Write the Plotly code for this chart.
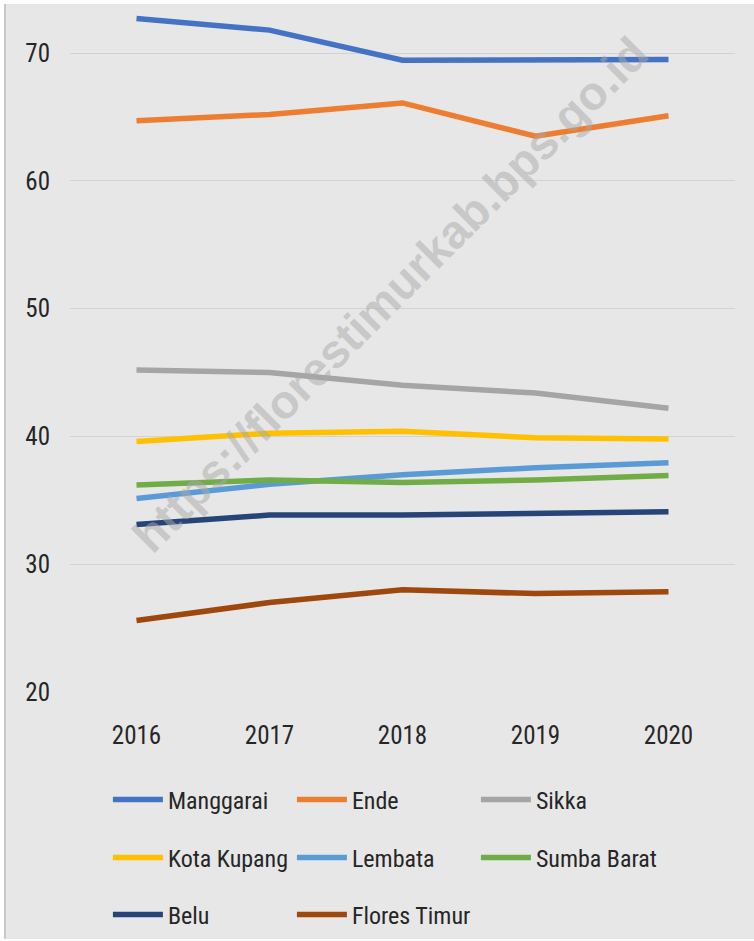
import plotly.graph_objects as go

years = ["2016", "2017", "2018", "2019", "2020"]
manggarai = [72.7, 71.8, 69.45, 69.45, 69.5]
ende = [64.7, 65.2, 66.1, 63.5, 65.1]
sikka = [45.2, 45.0, 44.0, 43.4, 42.2]
kota_kupang = [39.6, 40.25, 40.4, 39.9, 39.8]
lembata = [35.15, 36.25, 37.0, 37.55, 37.95]
sumba_barat = [36.2, 36.6, 36.4, 36.6, 36.95]
belu = [33.1, 33.85, 33.85, 34.0, 34.1]
flores_timur = [25.6, 27.0, 28.0, 27.7, 27.85]
y_ticks = [20, 30, 40, 50, 60, 70]

series = [
    ("Manggarai", manggarai, "#4472C4", "legend"),
    ("Ende", ende, "#ED7D31", "legend"),
    ("Sikka", sikka, "#A5A5A5", "legend"),
    ("Kota Kupang", kota_kupang, "#FFC000", "legend2"),
    ("Lembata", lembata, "#5B9BD5", "legend2"),
    ("Sumba Barat", sumba_barat, "#70AD47", "legend2"),
    ("Belu", belu, "#264478", "legend3"),
    ("Flores Timur", flores_timur, "#9E480E", "legend3"),
]

FONT = "Liberation Sans Narrow, Arial Narrow, Roboto Condensed, sans-serif"
BG = "#E7E7E7"

fig = go.Figure()
for name, vals, color, lg in series:
    fig.add_trace(go.Scatter(
        x=years, y=vals, name=name, mode="lines",
        line=dict(color=color, width=5.5),
        legend=lg,
    ))

legend_common = dict(
    orientation="h", xanchor="left", yanchor="middle",
    x=0.057, entrywidth=119, entrywidthmode="pixels",
    font=dict(family=FONT, size=24, color="#262626"),
    bgcolor="rgba(0,0,0,0)", itemwidth=50,
    traceorder="normal",
)

fig.update_layout(
    width=754, height=941,
    margin=dict(l=70, r=19, t=2, b=249),
    paper_bgcolor=BG, plot_bgcolor=BG,
    showlegend=True,
    legend=dict(legend_common, y=(692 - 800) / 690),
    legend2=dict(legend_common, y=(692 - 858) / 690),
    legend3=dict(legend_common, y=(692 - 915) / 690),
    xaxis=dict(
        type="category", range=[-0.5, 4.5], showgrid=False, zeroline=False,
        showline=False,
        tickfont=dict(family=FONT, size=25, color="#262626"),
        ticks="", ticklabelstandoff=26,
    ),
    yaxis=dict(
        range=[20, 74], tickvals=y_ticks, showgrid=True,
        gridcolor="#D3D3D3", gridwidth=1, zeroline=False, showline=False,
        tickfont=dict(family=FONT, size=25, color="#262626"),
        ticks="", ticklabelstandoff=19,
    ),
    annotations=[dict(
        text="<b>https://florestimurkab.bps.go.id</b>",
        xref="paper", yref="paper",
        x=(390 - 70) / 665, y=(692 - 295) / 690,
        showarrow=False, textangle=-45,
        font=dict(family="Liberation Sans, Arial, sans-serif", size=47,
                  color="rgba(170,170,170,0.5)"),
    )],
    shapes=[
        dict(type="rect", xref="paper", yref="paper",
             x0=-70 / 665, x1=-65 / 665, y0=-249 / 690, y1=692 / 690,
             fillcolor="white", line=dict(width=0), layer="above"),
        dict(type="line", xref="paper", yref="paper",
             x0=-65 / 665, x1=-65 / 665, y0=-247 / 690, y1=688 / 690,
             line=dict(color="#C8C8C8", width=2), layer="above"),
        dict(type="rect", xref="paper", yref="paper",
             x0=-70 / 665, x1=684 / 665, y0=688 / 690, y1=692 / 690,
             fillcolor="white", line=dict(width=0), layer="above"),
        dict(type="rect", xref="paper", yref="paper",
             x0=-70 / 665, x1=684 / 665, y0=-249 / 690, y1=-247 / 690,
             fillcolor="white", line=dict(width=0), layer="above"),
    ],
)

fig.write_html("out.html", config={"displayModeBar": False},
               post_script="document.body.style.margin='0';")
